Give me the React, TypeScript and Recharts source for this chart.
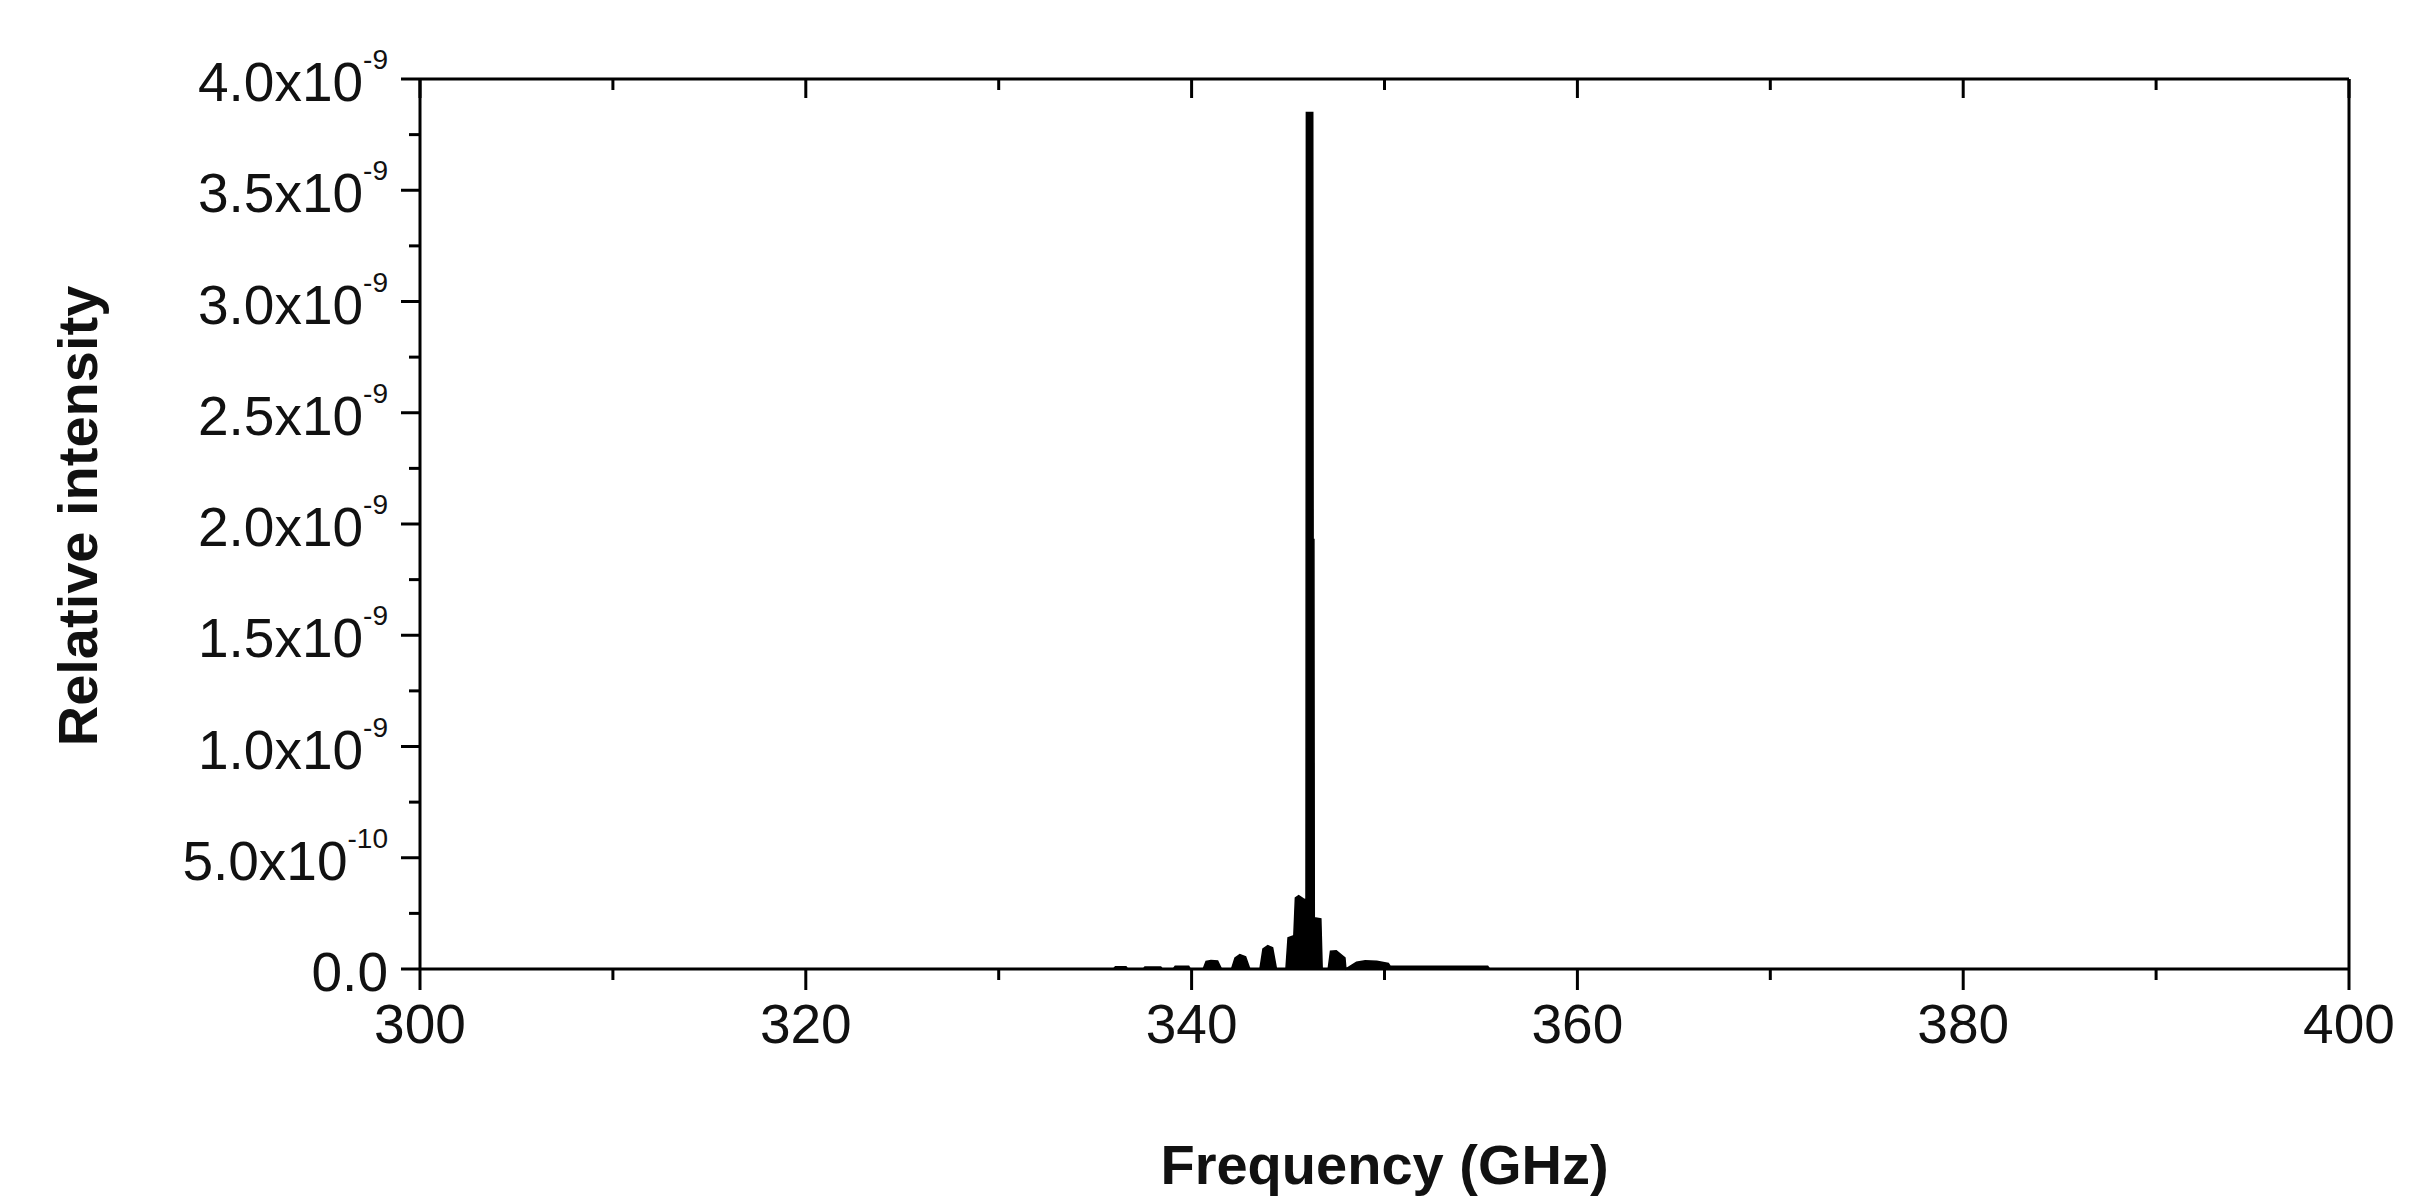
import { AreaChart, Area, XAxis, YAxis, Label } from "recharts";

// spectrum (frequency in GHz, intensity in units of 1e-9)
const freqGHz = [
  300, 335.95, 336.05, 336.6, 336.68, 337.5, 337.58, 338.4, 338.48, 339.05,
  339.15, 339.85, 339.93, 340.6, 340.75, 341.0, 341.35, 341.55, 342.07, 342.25,
  342.5, 342.8, 343.02, 343.54, 343.7, 343.95, 344.2, 344.4, 344.89, 345.0,
  345.3, 345.38, 345.55, 345.8, 345.93, 345.95, 346.28, 346.3, 346.34, 346.36,
  346.7, 346.77, 347.08, 347.2, 347.5, 347.95, 348.0, 348.55, 349.0, 349.6,
  350.2, 350.3, 355.35, 355.45, 400,
];
const intensityE9 = [
  0, 0, 0.01, 0.01, 0, 0, 0.009, 0.009, 0, 0,
  0.012, 0.012, 0, 0, 0.034, 0.038, 0.036, 0, 0, 0.05,
  0.065, 0.055, 0, 0, 0.09, 0.105, 0.095, 0, 0, 0.14,
  0.15, 0.32, 0.33, 0.315, 0.31, 3.85, 3.85, 1.93, 1.93, 0.23,
  0.225, 0, 0, 0.08, 0.082, 0.05, 0, 0.03, 0.037, 0.035,
  0.025, 0.012, 0.012, 0, 0,
];

const xMajor = [300, 320, 340, 360, 380, 400];
const xMinor = [310, 330, 350, 370, 390];
const yMajorE9 = [0, 0.5, 1.0, 1.5, 2.0, 2.5, 3.0, 3.5, 4.0];
const yMinorE9 = [0.25, 0.75, 1.25, 1.75, 2.25, 2.75, 3.25, 3.75];
const yMantissa = ["0.0", "5.0", "1.0", "1.5", "2.0", "2.5", "3.0", "3.5", "4.0"];
const yExponent = ["", "-10", "-9", "-9", "-9", "-9", "-9", "-9", "-9"];

const data = freqGHz.map((f, i) => ({ f, v: intensityE9[i] * 1e-9 }));
const xTicks = [...xMajor, ...xMinor].sort((a, b) => a - b);
const yTicks = [...yMajorE9, ...yMinorE9].sort((a, b) => a - b).map((v) => v * 1e-9);

const font = '"Liberation Sans", Arial, Helvetica, sans-serif';
const ink = "#111";

function yIndex(value: number) {
  return yMajorE9.findIndex((m) => Math.abs(m * 1e-9 - value) < 1e-13);
}

function BottomTick(props: any) {
  const { x, y, payload } = props;
  const major = xMajor.includes(payload.value);
  return (
    <g>
      <line x1={x} y1={y} x2={x} y2={y + (major ? 21 : 11)} stroke="#000" strokeWidth={3} />
      {major && (
        <text x={x} y={y + 74} textAnchor="middle" fontSize={55} fontFamily={font} fill={ink}>
          {payload.value}
        </text>
      )}
    </g>
  );
}

function TopTick(props: any) {
  const { x, y, payload } = props;
  const major = xMajor.includes(payload.value);
  return <line x1={x} y1={y} x2={x} y2={y + (major ? 19 : 11)} stroke="#000" strokeWidth={3} />;
}

function LeftTick(props: any) {
  const { x, y, payload } = props;
  const i = yIndex(payload.value);
  const major = i >= 0;
  return (
    <g>
      <line x1={x} y1={y} x2={x - (major ? 19 : 11)} y2={y} stroke="#000" strokeWidth={3} />
      {major && (
        <text x={x - 32} y={y + 22} textAnchor="end" fontSize={55} fontFamily={font} fill={ink}>
          {yExponent[i] ? `${yMantissa[i]}x10` : yMantissa[i]}
          {yExponent[i] && (
            <tspan fontSize={28} dy={-32}>
              {yExponent[i]}
            </tspan>
          )}
        </text>
      )}
    </g>
  );
}

function RightTick(props: any) {
  const { x, y, payload } = props;
  const major = yIndex(payload.value) >= 0;
  return <line x1={x} y1={y} x2={x - (major ? 19 : 12)} y2={y} stroke="#000" strokeWidth={3} />;
}

function YTitle(props: any) {
  const vb = props.viewBox || { x: 0, y: 79, height: 890 };
  const cx = vb.x + 97;
  const cy = vb.y + vb.height / 2 - 8;
  return (
    <text
      x={cx}
      y={cy}
      transform={`rotate(-90 ${cx} ${cy})`}
      textAnchor="middle"
      fontSize={56}
      fontWeight="bold"
      fontFamily={font}
      fill={ink}
    >
      Relative intensity
    </text>
  );
}

const axisLine = { stroke: "#000", strokeWidth: 3 };

export default function App() {
  return (
    <div style={{ position: "absolute", left: 0, top: 0, width: 2430, height: 1200, background: "#fff" }}>
      <AreaChart width={2430} height={1200} data={data} margin={{ top: 0, right: 0, bottom: 0, left: 0 }}>
        <XAxis
          dataKey="f"
          type="number"
          domain={[300, 400]}
          ticks={xTicks}
          interval={0}
          height={231}
          axisLine={axisLine}
          tickLine={false}
          tickSize={0}
          tickMargin={0}
          tick={(p: any) => <BottomTick {...p} />}
        >
          <Label
            value="Frequency (GHz)"
            position="insideBottom"
            offset={16}
            fontSize={56}
            fontWeight="bold"
            fontFamily={font}
            fill={ink}
          />
        </XAxis>
        <XAxis
          xAxisId="top"
          orientation="top"
          dataKey="f"
          type="number"
          domain={[300, 400]}
          ticks={xTicks}
          interval={0}
          height={79}
          axisLine={axisLine}
          tickLine={false}
          tickSize={0}
          tickMargin={0}
          tick={(p: any) => <TopTick {...p} />}
        />
        <YAxis
          type="number"
          domain={[0, 4e-9]}
          ticks={yTicks}
          interval={0}
          width={420}
          axisLine={axisLine}
          tickLine={false}
          tickSize={0}
          tickMargin={0}
          tick={(p: any) => <LeftTick {...p} />}
        >
          <Label content={(p: any) => <YTitle {...p} />} />
        </YAxis>
        <YAxis
          yAxisId="right"
          orientation="right"
          type="number"
          domain={[0, 4e-9]}
          ticks={yTicks}
          interval={0}
          width={81}
          axisLine={axisLine}
          tickLine={false}
          tickSize={0}
          tickMargin={0}
          tick={(p: any) => <RightTick {...p} />}
        />
        <Area
          dataKey="v"
          type="linear"
          stroke="#000"
          strokeWidth={1.5}
          fill="#000"
          fillOpacity={1}
          dot={false}
          activeDot={false}
          isAnimationActive={false}
        />
      </AreaChart>
    </div>
  );
}
